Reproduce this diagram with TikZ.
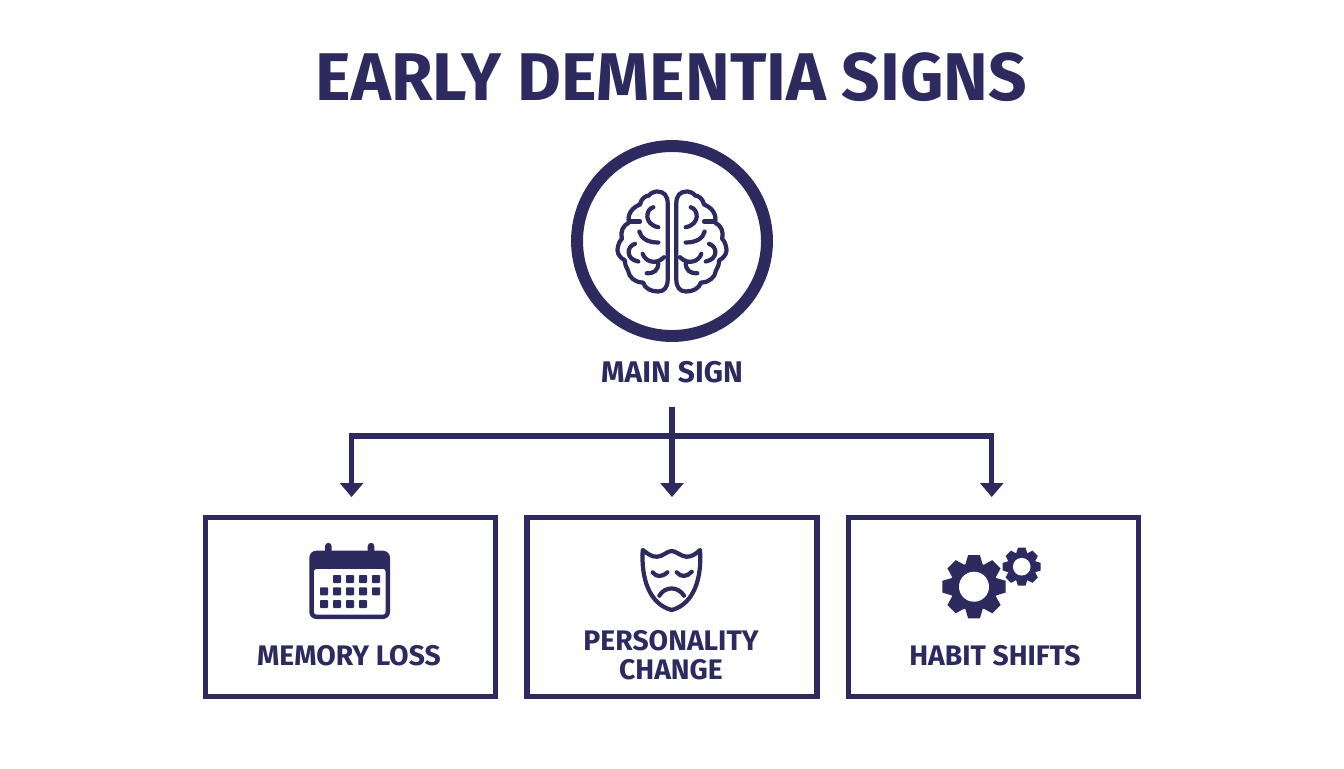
\documentclass[tikz,border=0pt]{standalone}
\usepackage{fontspec}
\setmainfont{Fira Sans}
\usepackage{xcolor}
\usetikzlibrary{arrows.meta, positioning}
\definecolor{signnavy}{HTML}{2D2A60}
\tikzset{
    signbox/.style={draw=signnavy, line width=2.9pt, minimum width=5.8cm, minimum height=3.58cm},
    signlabel/.style={text=signnavy, font=\fontsize{16.1}{16.4}\selectfont\bfseries, align=center, inner sep=0pt},
    signline/.style={draw=signnavy, line width=3.1pt},
    signarrow/.style={signline, -{Triangle[length=8pt, width=13pt]}, shorten >=10.2pt},
    iconline/.style={draw=signnavy, line width=2.4pt, line cap=round, line join=round},
    brainhalf/.pic={
        \draw[iconline] (-4.3,-38) -- (-4.3,38)
            .. controls (-4.3,46) and (-8,50) .. (-14,50)
            .. controls (-21,50) and (-27,47) .. (-29,41)
            .. controls (-37,41) and (-43,36) .. (-44,29)
            .. controls (-46,26) and (-47,23) .. (-47,19)
            .. controls (-53,16) and (-56,10) .. (-54,5)
            .. controls (-53,1) and (-52,-1) .. (-50,-3)
            .. controls (-52,-10) and (-49,-16) .. (-43,-19)
            .. controls (-45,-27) and (-40,-34) .. (-32,-37)
            .. controls (-31,-43) and (-26,-46) .. (-23,-46)
            .. controls (-21,-49) and (-17,-50) .. (-15,-50)
            .. controls (-8,-50) and (-4.3,-46) .. (-4.3,-38);
        \draw[iconline] (-18.7,-34.3) .. controls (-27,-32) and (-28,-17) .. (-13.7,-14.3);
        \draw[iconline] (-42,-20) -- (-32,-20);
        \draw[iconline] (-32.7,-10) .. controls (-31,-3) and (-24,1) .. (-13.7,1);
        \draw[iconline] (-37,2.3) .. controls (-46,5) and (-46,18) .. (-33.7,20);
        \draw[iconline] (-29.3,12.3) .. controls (-27,20) and (-16,24) .. (-8,15.7);
        \draw[iconline] (-13.7,21.7) .. controls (-14,29) and (-18,32) .. (-25.3,31.7);
    }
}
\newcommand{\drawgear}[4]{
    \fill[signnavy] (#1) circle[radius=#3];
    \foreach \toothangle in {0,45,...,315} {
        \fill[signnavy, shift={(#1)}, rotate=\toothangle]
            (-#4*0.62,-#3*0.92) -- (-#4*0.42,-#2) -- (#4*0.42,-#2) -- (#4*0.62,-#3*0.92) -- cycle;
    }
}
\begin{document}
\begin{tikzpicture}[x=0.02cm, y=-0.02cm]
    \useasboundingbox (0,0) rectangle (1344,768);
    \node[text=signnavy, font=\fontsize{38.4}{38.4}\selectfont\bfseries, inner sep=0pt] (title) at (671.5,77) {EARLY DEMENTIA SIGNS};

    \node[circle, draw=signnavy, line width=6.8pt, minimum size=3.8cm] (mainsign) at (672,241) {};
    \pic at (672,241.5) {brainhalf};
    \pic[xscale=-1] at (672,241.5) {brainhalf};
    \node[signlabel, font=\fontsize{17}{17}\selectfont\bfseries] (mainlabel) at (672,372) {MAIN SIGN};

    \node[signbox] (memory) at (350.5,607) {};
    \node[signbox] (personality) at (672,607) {};
    \node[signbox] (habit) at (993.5,607) {};
    \node[signlabel] (memorylabel) at (349,656) {MEMORY LOSS};
    \node[signlabel] (personalitylabel) at (671,655) {PERSONALITY\\CHANGE};
    \node[signlabel] (habitlabel) at (995,656) {HABIT SHIFTS};

    \coordinate (trunkstart) at (672,407);
    \coordinate (trunkjoin) at (672,436);
    \draw[signarrow] (trunkstart) -- (personality.north);
    \draw[signarrow] (trunkjoin) -| ([xshift=0.6pt]memory.north);
    \draw[signarrow] (trunkjoin) -| ([xshift=-1pt]habit.north);

    \fill[signnavy] (328.3,546) circle[radius=3.2] (371,546) circle[radius=3.2];
    \fill[signnavy] (325,546) rectangle (331.6,556) (367.7,546) rectangle (374.3,556);
    \fill[signnavy, rounded corners=1.4mm] (309.3,550.7) rectangle (390,619);
    \fill[white, rounded corners=0.5mm] (314,569) -- (385.5,569) -- (385.5,614.5) -- (314,614.5) -- cycle;
    \foreach \cellx in {337,350,363,376} { \fill[signnavy, rounded corners=0.5pt] (\cellx-4,575) rectangle +(8,8); }
    \foreach \cellx in {324,337,350,363,376} { \fill[signnavy, rounded corners=0.5pt] (\cellx-4,587.3) rectangle +(8,8); }
    \foreach \cellx in {324,337,350,363} { \fill[signnavy, rounded corners=0.5pt] (\cellx-4,600) rectangle +(8,8); }

    \draw[iconline] (642.7,550) .. controls (648,554) and (652,557) .. (657,556.7)
        .. controls (663,556.5) and (667,551) .. (671.7,551)
        .. controls (676,551) and (681,556.5) .. (686.5,556.7)
        .. controls (691,557) and (696,554) .. (700,550)
        .. controls (702,578) and (694,604) .. (671.7,610)
        .. controls (649,604) and (641,578) .. (642.7,550) -- cycle;
    \draw[iconline] (652.7,572.3) .. controls (656,577) and (662,577.5) .. (667.3,572.3);
    \draw[iconline] (676.7,572.3) .. controls (681,577.5) and (687,577) .. (691.7,571.7);
    \draw[iconline] (659.3,595.7) .. controls (665,586) and (678,586) .. (684,595.7);

    \drawgear{974,586.7}{31.7}{24}{14}
    \fill[white] (974,586.7) circle[radius=15];
    \drawgear{1021.7,566.7}{19}{14.5}{9}
    \fill[white] (1021.7,566.7) circle[radius=8.8];
\end{tikzpicture}
\end{document}
